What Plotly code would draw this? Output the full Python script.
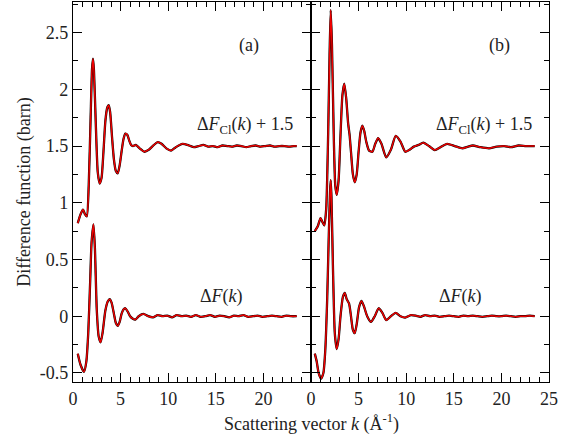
import plotly.graph_objects as go

# ---------------- data ----------------
# Panel (a): Delta F_Cl(k) + 1.5
a_cl_k = [0.5, 0.8, 1.05, 1.25, 1.45, 1.65, 1.85, 2.0, 2.1, 2.2, 2.4, 2.6, 2.8, 3.0, 3.2, 3.4, 3.6, 3.75,
          3.9, 4.1, 4.3, 4.5, 4.7, 4.9, 5.1, 5.3, 5.5, 5.7, 5.9, 6.1, 6.3, 6.6, 7.0, 7.5, 8.0, 8.5, 8.9,
          9.3, 9.8, 10.3, 10.8, 11.5, 12.2, 12.7, 13.2, 13.7, 14.2, 14.7, 15.2, 15.7, 16.2, 16.7, 17.2,
          17.7, 18.2, 18.7, 19.2, 19.7, 20.2, 20.7, 21.2, 21.7, 22.2, 22.7, 23.2, 23.5]
a_cl_y = [0.82, 0.90, 0.94, 0.90, 0.88, 1.15, 1.75, 2.18, 2.27, 2.17, 1.68, 1.27, 1.17, 1.22, 1.45, 1.72,
          1.84, 1.86, 1.80, 1.58, 1.38, 1.28, 1.26, 1.33, 1.45, 1.56, 1.61, 1.60, 1.55, 1.51, 1.50, 1.51,
          1.48, 1.45, 1.47, 1.51, 1.535, 1.52, 1.48, 1.46, 1.49, 1.52, 1.505, 1.49, 1.50, 1.51, 1.495,
          1.50, 1.49, 1.505, 1.50, 1.495, 1.505, 1.50, 1.49, 1.50, 1.505, 1.495, 1.50, 1.505, 1.495,
          1.50, 1.50, 1.495, 1.50, 1.50]

# Panel (a): Delta F(k)
a_f_k = [0.5, 0.8, 1.15, 1.4, 1.6, 1.8, 1.95, 2.15, 2.3, 2.5, 2.7, 2.9, 3.1, 3.4, 3.65, 3.85, 4.05, 4.3,
         4.5, 4.7, 4.9, 5.1, 5.3, 5.5, 5.75, 6.0, 6.25, 6.55, 6.9, 7.4, 7.9, 8.4, 8.9, 9.4, 9.9, 10.4,
         10.9, 11.4, 11.9, 12.4, 12.9, 13.4, 13.9, 14.4, 14.9, 15.4, 15.9, 16.4, 16.9, 17.4, 17.9, 18.4,
         18.9, 19.4, 19.9, 20.4, 20.9, 21.4, 21.9, 22.4, 22.9, 23.5]
a_f_y = [-0.33, -0.43, -0.49, -0.40, -0.15, 0.30, 0.65, 0.81, 0.60, 0.05, -0.18, -0.23, -0.15, 0.05,
         0.13, 0.15, 0.12, 0.02, -0.06, -0.085, -0.05, 0.02, 0.06, 0.07, 0.04, 0.0, -0.02, -0.03, 0.0,
         0.02, 0.0, -0.01, 0.01, 0.0, 0.005, -0.01, 0.01, 0.0, 0.005, -0.005, 0.01, -0.005, 0.0, 0.01,
         -0.005, 0.005, 0.0, -0.01, 0.005, 0.0, 0.01, -0.005, 0.0, 0.005, -0.005, 0.0, 0.005, 0.0,
         -0.005, 0.005, 0.0, 0.0]

# Panel (b): Delta F_Cl(k) + 1.5
b_cl_k = [0.4, 0.7, 1.0, 1.2, 1.4, 1.6, 1.8, 1.95, 2.07, 2.2, 2.4, 2.55, 2.7, 2.9, 3.1, 3.3, 3.5, 3.7,
          3.9, 4.05, 4.2, 4.4, 4.6, 4.8, 5.0, 5.2, 5.4, 5.6, 5.8, 6.1, 6.45, 6.75, 7.05, 7.4, 7.9, 8.4,
          8.9, 9.4, 9.9, 10.4, 10.8, 11.3, 11.8, 12.4, 13.0, 13.6, 14.3, 15.1, 15.9, 16.5, 17.0, 17.8,
          18.7, 19.5, 20.3, 21.0, 21.8, 22.6, 23.5]
b_cl_y = [0.75, 0.79, 0.865, 0.83, 0.80, 0.95, 1.60, 2.30, 2.70, 2.40, 1.55, 1.15, 1.07, 1.20, 1.60,
          1.95, 2.05, 1.92, 1.70, 1.60, 1.45, 1.25, 1.18, 1.25, 1.45, 1.62, 1.68, 1.63, 1.54, 1.46, 1.45,
          1.52, 1.57, 1.52, 1.40, 1.47, 1.59, 1.54, 1.45, 1.47, 1.495, 1.51, 1.53, 1.50, 1.465, 1.49,
          1.52, 1.50, 1.48, 1.495, 1.505, 1.49, 1.48, 1.495, 1.50, 1.49, 1.505, 1.50, 1.50]

# Panel (b): Delta F(k)
b_f_k = [0.4, 0.6, 0.8, 1.05, 1.3, 1.5, 1.7, 1.85, 2.0, 2.07, 2.15, 2.3, 2.5, 2.7, 2.9, 3.1, 3.35, 3.55,
         3.75, 4.0, 4.2, 4.4, 4.6, 4.8, 5.05, 5.3, 5.55, 5.9, 6.3, 6.7, 7.1, 7.5, 7.9, 8.4, 8.9, 9.4,
         9.9, 10.5, 11.0, 11.5, 12.0, 12.5, 13.0, 13.5, 14.0, 14.5, 15.0, 15.5, 16.0, 16.5, 17.0, 17.5,
         18.0, 18.5, 19.0, 19.5, 20.0, 20.5, 21.0, 21.5, 22.0, 22.5, 23.0, 23.5]
b_f_y = [-0.33, -0.40, -0.50, -0.55, -0.50, -0.30, 0.15, 0.65, 1.10, 1.20, 1.05, 0.45, -0.15, -0.29,
         -0.20, 0.0, 0.17, 0.205, 0.15, 0.11, 0.0, -0.12, -0.15, -0.07, 0.08, 0.135, 0.09, 0.0, -0.05,
         0.0, 0.07, 0.03, -0.035, 0.0, 0.03, 0.0, -0.012, 0.01, 0.005, -0.005, 0.01, 0.0, 0.005, -0.005,
         0.0, 0.005, 0.0, -0.005, 0.005, 0.0, 0.005, 0.0, -0.005, 0.0, 0.005, 0.0, 0.0, 0.005, 0.0,
         -0.005, 0.0, 0.0, 0.005, 0.0]

y_tickvals = [-0.5, 0, 0.5, 1, 1.5, 2, 2.5]
y_ticktext = ["-0.5", "0", "0.5", "1", "1.5", "2", "2.5"]
xa_tickvals = [0, 5, 10, 15, 20]
xb_tickvals = [0, 5, 10, 15, 20, 25]

# ---------------- figure ----------------
FONT = "Liberation Serif, Times New Roman, serif"
TXT = "#222"
fig = go.Figure()

def add_pair(k, y, xa, ya):
    fig.add_trace(go.Scatter(x=k, y=y, xaxis=xa, yaxis=ya, mode="lines",
                             line=dict(color="black", width=2.3, shape="spline", smoothing=0.6),
                             showlegend=False, hoverinfo="skip"))
    fig.add_trace(go.Scatter(x=k, y=y, xaxis=xa, yaxis=ya, mode="lines",
                             line=dict(color="#ee0000", width=1.5, shape="spline", smoothing=0.6),
                             showlegend=False))

add_pair(a_cl_k, a_cl_y, "x", "y")
add_pair(a_f_k, a_f_y, "x", "y")
add_pair(b_cl_k, b_cl_y, "x2", "y2")
add_pair(b_f_k, b_f_y, "x2", "y2")

axis_common = dict(showline=True, linecolor="black", linewidth=1.3, mirror="ticks",
                   ticks="inside", ticklen=9, tickwidth=1.4, tickcolor="black",
                   showgrid=False, zeroline=False,
                   tickfont=dict(family=FONT, size=18, color=TXT))
minor_x = dict(dtick=1, ticks="inside", ticklen=5, tickwidth=1.2, tickcolor="black")
minor_y = dict(dtick=0.25, ticks="inside", ticklen=5, tickwidth=1.2, tickcolor="black")

xr = [0, 25]
yr = [-0.58, 2.77]

fig.update_layout(
    width=572, height=439,
    margin=dict(l=73, r=23, t=2, b=57),
    plot_bgcolor="white", paper_bgcolor="white",
    font=dict(family=FONT, size=18, color=TXT),
    xaxis=dict(domain=[0, 0.5], range=xr, tickvals=xa_tickvals, minor=minor_x, **axis_common),
    xaxis2=dict(domain=[0.5, 1], range=xr, tickvals=xb_tickvals, anchor="y2", minor=minor_x,
                **axis_common),
    yaxis=dict(range=yr, tickvals=y_tickvals, ticktext=y_ticktext, minor=minor_y,
               title=dict(text="Difference function (barn)", font=dict(family=FONT, size=18, color=TXT),
                          standoff=4),
               **axis_common),
    yaxis2=dict(range=yr, tickvals=y_tickvals, showticklabels=False, anchor="x2", minor=minor_y,
                **axis_common),
)

ann_font = dict(family=FONT, size=18, color=TXT)
annotations = [
    dict(x=18.5, y=2.39, xref="x", yref="y", text="(a)", showarrow=False, font=ann_font),
    dict(x=19.8, y=2.39, xref="x2", yref="y2", text="(b)", showarrow=False, font=ann_font),
    dict(x=18.1, y=1.68, xref="x", yref="y", text="Δ<i>F</i><sub>Cl</sub>(<i>k</i>) + 1.5",
         showarrow=False, font=ann_font),
    dict(x=18.2, y=1.68, xref="x2", yref="y2", text="Δ<i>F</i><sub>Cl</sub>(<i>k</i>) + 1.5",
         showarrow=False, font=ann_font),
    dict(x=15.6, y=0.17, xref="x", yref="y", text="Δ<i>F</i>(<i>k</i>)", showarrow=False, font=ann_font),
    dict(x=15.7, y=0.17, xref="x2", yref="y2", text="Δ<i>F</i>(<i>k</i>)", showarrow=False, font=ann_font),
    dict(x=0.5, y=-0.108, xref="paper", yref="paper", yanchor="middle",
         text="Scattering vector <i>k</i> (Å<sup>-1</sup>)", showarrow=False, font=ann_font),
]
fig.update_layout(annotations=annotations)

fig.write_html("out.html", config={"displayModeBar": False},
               post_script="document.body.style.margin='0';document.body.style.padding='0';"
                           "document.body.style.overflow='hidden';")
